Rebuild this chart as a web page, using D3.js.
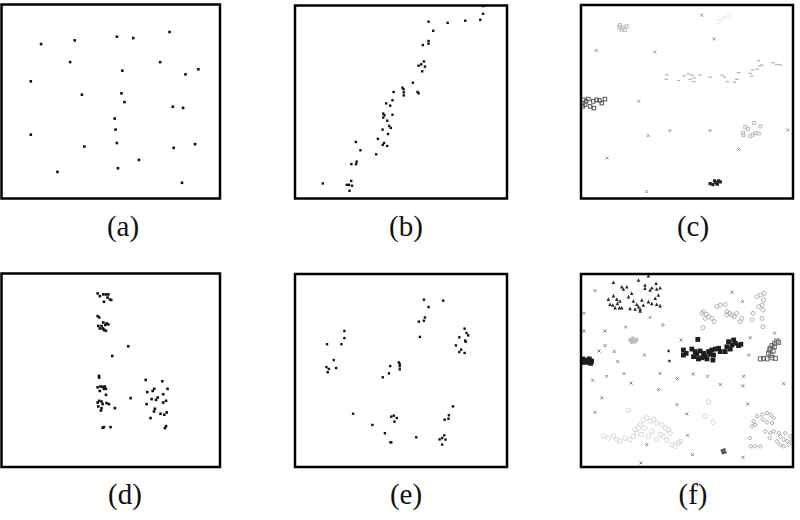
<!DOCTYPE html>
<html>
<head>
<meta charset="utf-8">
<script src="https://cdn.jsdelivr.net/npm/d3@7"></script>
<style>
  body { margin: 0; background: #fff; }
  svg { display: block; }
</style>
</head>
<body>
<script>
// panel labels
const labels = ["(a)", "(b)", "(c)", "(d)", "(e)", "(f)"];

// (a) uniform scatter
const ptsA = [
  [18.1, 79.6], [33.5, 81.5], [52.8, 83.4], [60.3, 82.7], [76.9, 85.8], [31.4, 70.3],
  [72.6, 70.3], [55.3, 65.9], [84.2, 64.0], [90.1, 66.6], [13.4, 60.4], [36.8, 53.5],
  [54.9, 54.2], [56.3, 49.7], [78.4, 47.3], [83.1, 46.7], [51.8, 41.2], [52.2, 35.5],
  [13.4, 32.9], [52.8, 28.6], [37.9, 26.8], [78.8, 26.1], [88.6, 28.0], [62.9, 19.9],
  [25.6, 13.7], [53.3, 15.6], [82.6, 8.1]
];

// (b) diagonal trend
const ptsB = [
  [88.8, 99.7], [88.7, 95.7], [87.4, 92.6], [80.3, 92.1], [72.0, 91.0], [63.0, 91.6],
  [65.2, 86.9], [63.0, 81.6], [63.0, 80.2], [60.3, 79.5], [60.8, 71.0], [59.5, 69.5],
  [58.3, 68.8], [61.3, 68.3], [60.0, 65.9], [55.6, 60.0], [50.7, 57.4], [51.2, 56.6],
  [51.3, 55.0], [51.3, 53.4], [57.8, 55.2], [58.3, 54.5], [46.5, 55.2], [46.0, 50.9],
  [43.0, 49.3], [44.9, 48.1], [41.6, 44.0], [42.2, 43.1], [41.6, 41.9], [46.0, 43.4],
  [43.5, 40.3], [44.4, 37.6], [45.2, 36.6], [41.3, 35.7], [43.9, 33.4], [39.1, 30.9],
  [42.0, 28.8], [41.4, 27.8], [43.5, 27.2], [28.7, 29.3], [30.9, 25.0], [38.3, 22.9],
  [29.1, 19.1], [28.8, 17.8], [26.6, 17.8], [13.1, 7.8], [26.5, 9.1], [24.4, 7.1],
  [25.5, 7.1], [26.9, 6.6], [25.7, 4.0]
];

// (c) several classes
const cCross = [
  [56.9, 94.7], [62.7, 82.5], [7.2, 76.5], [34.8, 75.7], [27.2, 50.2], [41.9, 35.1],
  [60.9, 35.1], [97.5, 35.4], [31.7, 32.5], [74.3, 25.3], [12.3, 20.9], [30.9, 3.6]
];
const cFaint = [
  [18.4, 89.6], [20.0, 88.4], [19.2, 87.3], [21.6, 89.0], [20.8, 87.0], [18.1, 88.4],
  [77.5, 37.0], [78.7, 36.0], [76.4, 33.9], [76.7, 32.7], [79.8, 32.2], [81.1, 33.0],
  [82.2, 33.9], [83.8, 33.6], [84.6, 37.3], [81.7, 39.0]
];
const cGhost = [[64.9, 91.3], [67.2, 93.0], [69.6, 94.2]];
const cBand = [
  [40.5, 63.9], [40.2, 61.6], [46.0, 61.0], [48.7, 63.4], [50.7, 64.4], [52.3, 63.7],
  [51.5, 61.6], [53.4, 62.3], [53.1, 60.4], [56.2, 63.9], [60.9, 62.7], [66.5, 63.7],
  [67.6, 62.7], [69.1, 60.4], [72.3, 60.1], [73.5, 61.6], [74.3, 65.1], [79.8, 64.7],
  [80.6, 63.4], [80.9, 66.4], [83.0, 66.8], [84.3, 68.5], [85.4, 69.0], [83.8, 71.2],
  [90.6, 70.2], [92.4, 69.3], [94.0, 69.0]
];
const cLeft = [
  [1.1, 51.0], [2.4, 50.2], [1.9, 48.5], [3.5, 51.4], [5.8, 50.2], [7.4, 51.0],
  [8.7, 50.7], [9.8, 49.3], [11.3, 51.4], [4.3, 47.6], [6.1, 46.7], [0.8, 47.6]
];
const cDark = [
  [60.9, 7.7], [62.2, 7.2], [63.6, 8.2], [64.9, 9.1], [65.7, 8.6], [63.0, 9.1], [64.3, 7.4]
];

// (d) vertical clusters
const ptsD = [
  [44.0, 89.7], [45.0, 88.3], [46.6, 89.2], [47.8, 89.2], [48.9, 89.2], [48.5, 87.6],
  [49.6, 86.6], [50.2, 86.3], [46.9, 85.4],
  [44.0, 78.0], [44.7, 77.3], [46.6, 74.7], [48.1, 74.2], [48.9, 73.7], [47.5, 73.4],
  [45.8, 72.9], [44.3, 72.9], [45.0, 71.6], [46.6, 71.3], [47.0, 70.8], [47.8, 70.4], [46.3, 71.6],
  [58.0, 62.4], [50.7, 57.4],
  [44.6, 47.1], [44.7, 46.2], [44.0, 41.2], [45.3, 41.6], [46.3, 41.4], [47.3, 41.6],
  [47.8, 40.4], [46.9, 40.4], [45.0, 39.3], [47.8, 37.3], [59.1, 35.6], [44.7, 34.2],
  [44.0, 33.3], [45.8, 33.8], [46.3, 32.5], [48.1, 33.0], [49.2, 32.5], [51.9, 30.4],
  [44.3, 31.3], [45.8, 30.4], [45.5, 29.2],
  [46.3, 20.3], [46.9, 20.6], [49.9, 20.6],
  [66.0, 45.0], [73.6, 44.3], [76.0, 40.4], [69.9, 40.4], [69.2, 39.3], [66.7, 38.7],
  [74.0, 37.6], [71.5, 35.9], [70.7, 34.7], [68.7, 35.1], [75.3, 34.2], [74.0, 33.3],
  [66.4, 32.5], [70.2, 30.1], [69.8, 28.7], [72.8, 27.5], [75.6, 28.2], [74.5, 27.0],
  [68.2, 25.3], [75.3, 21.1], [74.8, 20.1]
];

// (e) ring of small clusters
const ptsE = [
  [60.8, 86.7], [69.9, 86.2], [63.0, 82.9], [61.3, 77.5], [60.8, 75.8], [58.4, 75.3], [58.9, 67.4],
  [80.0, 71.7], [80.9, 69.4], [81.7, 68.2], [77.5, 67.2], [80.3, 65.5], [80.5, 64.9],
  [75.9, 63.0], [78.4, 60.8], [77.5, 59.6], [80.0, 59.1],
  [23.3, 70.5], [23.3, 66.8], [21.9, 63.6], [15.1, 63.6], [18.3, 55.4], [14.8, 51.8],
  [15.9, 50.8], [19.4, 51.3], [15.4, 49.1],
  [44.9, 52.3], [49.0, 54.2], [49.4, 53.4], [49.4, 52.2], [49.4, 50.6], [44.3, 48.5], [41.4, 46.5],
  [74.5, 31.4], [72.6, 26.8], [72.4, 25.0], [70.6, 24.5],
  [27.4, 27.6], [45.4, 26.1], [46.6, 26.6], [48.0, 25.4], [46.9, 23.5], [36.5, 21.8],
  [42.4, 17.5], [45.0, 12.8], [45.4, 12.8], [57.2, 15.4],
  [70.4, 16.4], [69.4, 15.0], [68.2, 14.3], [71.0, 14.2], [69.4, 11.6]
];

// (f) many classes
const fTri = [
  [15.3, 95.7], [19.2, 93.4], [21.6, 93.4], [20.0, 92.2], [15.3, 88.8], [12.9, 87.0],
  [16.9, 87.0], [13.7, 84.3], [15.0, 83.9], [17.2, 84.8], [18.4, 86.0], [16.1, 82.6],
  [19.2, 82.6], [22.4, 88.3], [23.9, 90.0], [24.7, 86.0], [23.1, 82.2], [25.5, 81.9],
  [27.9, 81.9], [26.3, 84.3], [27.1, 83.1], [28.7, 86.5], [30.2, 92.6], [32.6, 91.7],
  [33.4, 92.9], [35.7, 92.2], [36.5, 89.1], [35.0, 87.4], [33.4, 84.8], [31.8, 85.7],
  [35.7, 84.3], [37.3, 83.6], [29.4, 83.9], [27.1, 96.9], [31.8, 99.1], [35.4, 95.2],
  [30.2, 94.3], [37.3, 92.9], [18.1, 82.6], [27.9, 80.8]
];
const fCross = [
  [6.6, 91.4], [32.6, 77.4], [21.1, 72.5], [11.3, 70.5], [11.3, 62.9], [8.5, 60.1],
  [15.7, 59.8], [29.9, 58.0], [17.3, 54.6], [47.2, 65.8], [71.2, 90.5], [76.2, 85.7],
  [79.8, 67.0], [91.3, 69.3], [79.1, 58.0], [1.4, 79.6], [1.4, 70.5], [5.5, 44.9],
  [12.1, 47.0], [20.3, 48.4], [23.6, 43.5], [37.3, 48.4], [45.5, 45.8], [52.9, 48.2],
  [59.7, 47.0], [65.7, 42.7], [76.7, 47.0], [76.4, 42.1], [95.6, 43.2], [9.8, 35.8],
  [36.5, 40.1], [45.2, 32.3], [6.6, 28.3], [49.9, 27.5], [78.6, 32.6], [31.0, 11.6],
  [50.2, 16.4], [52.6, 6.4], [76.4, 5.0], [28.3, 2.1]
];
const fSquareDark = [
  [55.1, 66.1], [48.3, 60.6], [49.6, 58.9], [52.3, 61.1], [53.9, 59.8], [54.6, 58.4],
  [56.2, 60.1], [57.8, 58.9], [58.6, 57.2], [60.2, 59.8], [61.7, 60.6], [63.3, 61.1],
  [64.9, 61.5], [65.7, 59.8], [62.5, 58.0], [59.4, 56.0], [57.0, 56.6], [53.1, 57.2],
  [48.3, 58.0], [69.6, 64.9], [71.2, 63.2], [72.8, 64.1], [74.3, 62.9], [75.4, 63.6],
  [68.8, 62.3], [70.4, 61.1], [68.0, 59.8], [72.0, 65.8], [60.9, 58.4], [55.4, 56.0],
  [62.2, 55.4],
  [0.8, 56.0], [2.4, 55.4], [3.9, 56.0], [5.0, 54.9], [1.4, 54.2], [3.5, 54.2], [4.6, 53.7]
];
const fSquareMid = [
  [92.4, 65.3], [91.3, 64.1], [90.1, 62.9], [89.3, 61.5], [90.6, 60.1], [88.5, 58.9],
  [89.6, 58.0], [87.7, 56.0], [93.2, 64.6], [91.2, 62.3], [89.0, 60.6],
  [84.6, 56.0], [86.1, 56.3], [90.1, 56.6], [91.7, 56.3]
];
const fBlob = [
  [23.1, 65.8], [24.4, 66.7], [25.5, 64.9], [26.3, 66.1], [23.9, 64.6], [25.2, 65.8],
  [24.7, 65.5], [38.6, 73.6]
];
const fCircle = [
  [57.8, 80.5], [59.1, 79.1], [60.2, 77.9], [61.7, 77.0], [62.8, 75.3], [58.6, 77.0],
  [57.0, 79.6], [64.1, 83.1], [65.7, 83.9], [68.0, 84.3], [68.8, 80.5], [70.1, 79.6],
  [71.2, 78.8], [72.3, 77.9], [73.5, 79.6], [75.9, 77.0], [75.1, 75.3], [80.6, 76.2],
  [81.1, 79.6], [85.4, 77.0], [85.8, 72.7], [57.5, 72.2], [83.0, 88.3], [84.6, 89.1],
  [86.1, 86.5], [85.4, 83.9], [83.8, 83.1], [86.5, 90.0], [85.8, 81.3], [68.8, 78.8]
];
const fCirclePale = [
  [10.6, 15.9], [12.9, 15.0], [15.3, 16.2], [16.9, 14.2], [18.4, 13.3], [20.8, 15.0],
  [23.1, 14.2], [24.7, 15.9], [26.3, 17.6], [27.1, 20.2], [25.5, 19.3], [27.9, 21.9],
  [29.4, 24.5], [31.0, 25.4], [32.6, 23.7], [34.2, 24.5], [35.7, 22.8], [38.1, 21.9],
  [39.7, 20.2], [41.3, 19.3], [42.0, 17.6], [37.3, 16.8], [38.9, 15.9], [35.7, 14.2],
  [40.5, 14.2], [42.8, 11.6], [44.4, 10.7], [46.0, 12.4], [46.8, 13.3], [30.2, 20.2],
  [28.7, 16.8], [33.4, 18.5], [31.8, 15.9], [22.4, 29.4], [60.2, 33.7], [58.6, 26.3],
  [62.2, 23.1]
];
const fDiamond = [
  [83.0, 26.3], [85.4, 27.1], [87.7, 28.0], [89.6, 27.1], [90.9, 25.4], [90.1, 22.8],
  [87.7, 23.1], [85.8, 24.5], [81.4, 23.7], [80.6, 21.1], [82.2, 21.9], [86.9, 18.5],
  [89.3, 17.6], [90.9, 18.5], [93.2, 17.6], [94.0, 15.9], [95.6, 14.2], [97.2, 13.3],
  [98.7, 15.9], [98.0, 11.6], [95.6, 10.7], [94.0, 11.6], [92.4, 13.3], [89.0, 15.0],
  [79.8, 15.0], [80.2, 10.7], [82.2, 10.7], [84.6, 10.7], [96.4, 17.6], [99.5, 13.3]
];
const fDot = [[41.3, 60.1], [41.7, 54.9], [66.5, 8.5], [67.6, 9.0], [68.0, 7.6], [66.9, 7.3]];

const width = 800;
const height = 520;

// frame boxes [left, top, right, bottom]
const frames = [
  [1.5, 4.5, 220, 198.5], [295, 5.5, 507, 198.5], [581, 5, 793, 198.5],
  [1.5, 273.5, 220, 467], [295, 274, 507, 467], [581, 274, 793, 467]
];
const labelX = [123, 406, 693, 125, 406, 693];
const labelY = [236, 236, 236, 504, 504, 504];

const svg = d3.select("body").append("svg")
  .attr("width", width)
  .attr("height", height);

svg.append("rect").attr("width", width).attr("height", height).attr("fill", "#fff");

const panels = frames.map((f, i) => {
  const x = d3.scaleLinear().domain([0, 100]).range([f[0], f[2]]);
  const y = d3.scaleLinear().domain([0, 100]).range([f[3], f[1]]);
  const g = svg.append("g");
  return { g, x, y, f, i };
});

function draw(p, data, shape, color, size) {
  const sel = p.g.append("g").selectAll("path").data(data).enter();
  const s = size / 2;
  if (shape === "dot") {
    sel.append("rect")
      .attr("x", d => p.x(d[0]) - s).attr("y", d => p.y(d[1]) - s)
      .attr("width", size).attr("height", size).attr("fill", color);
  } else if (shape === "square") {
    sel.append("rect")
      .attr("x", d => p.x(d[0]) - s).attr("y", d => p.y(d[1]) - s)
      .attr("width", size).attr("height", size)
      .attr("fill", "none").attr("stroke", color).attr("stroke-width", 1);
  } else if (shape === "circle") {
    sel.append("circle")
      .attr("cx", d => p.x(d[0])).attr("cy", d => p.y(d[1])).attr("r", s)
      .attr("fill", "none").attr("stroke", color).attr("stroke-width", 0.9);
  } else if (shape === "disc") {
    sel.append("circle")
      .attr("cx", d => p.x(d[0])).attr("cy", d => p.y(d[1])).attr("r", s)
      .attr("fill", color);
  } else if (shape === "cross") {
    sel.append("path")
      .attr("d", d => {
        const cx = p.x(d[0]), cy = p.y(d[1]);
        return `M${cx - s},${cy - s}L${cx + s},${cy + s}M${cx - s},${cy + s}L${cx + s},${cy - s}`;
      })
      .attr("stroke", color).attr("stroke-width", 0.9).attr("fill", "none");
  } else if (shape === "dash") {
    sel.append("path")
      .attr("d", d => `M${p.x(d[0]) - s},${p.y(d[1])}h${size}`)
      .attr("stroke", color).attr("stroke-width", 1.2);
  } else if (shape === "tri") {
    sel.append("path")
      .attr("d", d => {
        const cx = p.x(d[0]), cy = p.y(d[1]);
        return `M${cx},${cy - s}L${cx + s},${cy + s}L${cx - s},${cy + s}Z`;
      })
      .attr("fill", color);
  } else if (shape === "diamond") {
    sel.append("path")
      .attr("d", d => {
        const cx = p.x(d[0]), cy = p.y(d[1]);
        return `M${cx},${cy - s}L${cx + s},${cy}L${cx},${cy + s}L${cx - s},${cy}Z`;
      })
      .attr("fill", "none").attr("stroke", color).attr("stroke-width", 0.9);
  }
}

// (a) (b) (d) (e)
draw(panels[0], ptsA, "dot", "#111", 2.6);
draw(panels[1], ptsB, "dot", "#111", 2.4);
draw(panels[3], ptsD, "dot", "#111", 2.6);
draw(panels[4], ptsE, "dot", "#111", 2.4);

// (c)
draw(panels[2], cGhost, "circle", "#e4e4e4", 4);
draw(panels[2], cFaint, "square", "#bdbdbd", 3);
draw(panels[2], cBand, "dash", "#b0b0b0", 3.5);
draw(panels[2], cCross, "cross", "#8a8a8a", 3);
draw(panels[2], cLeft, "square", "#555", 3.5);
draw(panels[2], cDark, "dot", "#222", 3.2);

// (f)
draw(panels[5], fCirclePale, "circle", "#d2d2d2", 4.5);
draw(panels[5], fCircle, "circle", "#aaa", 4);
draw(panels[5], fDiamond, "diamond", "#9a9a9a", 4);
draw(panels[5], fBlob, "disc", "#bdbdbd", 4);
draw(panels[5], fCross, "cross", "#777", 3);
draw(panels[5], fTri, "tri", "#2a2a2a", 3.6);
draw(panels[5], fSquareMid, "square", "#666", 4);
draw(panels[5], fSquareDark, "dot", "#1e1e1e", 4.8);
draw(panels[5], fDot, "dot", "#444", 2.5);

// frames on top
panels.forEach(p => {
  p.g.append("rect")
    .attr("x", p.f[0]).attr("y", p.f[1])
    .attr("width", p.f[2] - p.f[0]).attr("height", p.f[3] - p.f[1])
    .attr("fill", "none").attr("stroke", "#000").attr("stroke-width", 2.5);
});

svg.selectAll(".lbl")
  .data(labels)
  .enter()
  .append("text")
  .attr("class", "lbl")
  .attr("x", (d, i) => labelX[i])
  .attr("y", (d, i) => labelY[i])
  .attr("text-anchor", "middle")
  .attr("font-family", "'Liberation Serif', 'Times New Roman', serif")
  .attr("font-size", 29)
  .attr("fill", "#111")
  .text(d => d);
</script>
</body>
</html>
